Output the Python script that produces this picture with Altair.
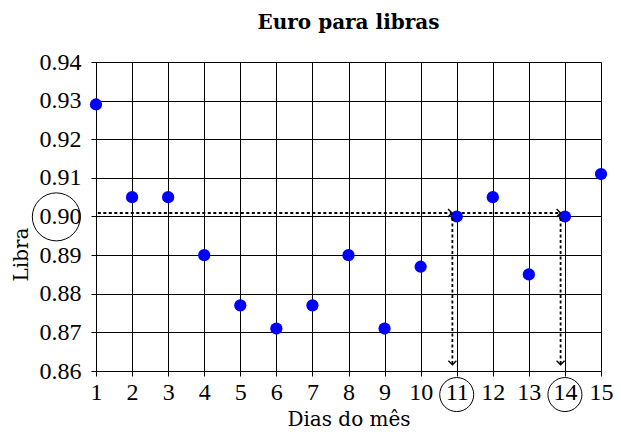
import altair as alt
import pandas as pd

days = list(range(1, 16))
rates = [0.929, 0.905, 0.905, 0.890, 0.877, 0.871, 0.877, 0.890, 0.871, 0.887,
         0.900, 0.905, 0.885, 0.900, 0.911]
y_ticks = [0.86, 0.87, 0.88, 0.89, 0.90, 0.91, 0.92, 0.93, 0.94]

# dotted arrow segments (start x, start y, end x, end y)
arr_x = [1.05, 11.14, 10.88, 13.88]
arr_y = [0.9009, 0.9009, 0.8996, 0.8996]
arr_x2 = [10.87, 13.88, 10.88, 13.88]
arr_y2 = [0.9009, 0.9009, 0.8616, 0.8616]
arr_angle = [0, 0, 90, 90]

# annotation circles (around label 0.90, day 11, day 14)
circ_x = [-0.10, 11, 14]
circ_y = [0.8999, 0.8539, 0.8539]
circ_size = [2304, 1156, 1156]

TICKFONT = "Liberation Serif"
TFONT = "DejaVu Serif"

pts = pd.DataFrame({"dia": days, "libra": rates})
arr = pd.DataFrame({"x": arr_x, "y": arr_y, "x2": arr_x2, "y2": arr_y2, "ang": arr_angle})
circ = pd.DataFrame({"x": circ_x, "y": circ_y, "s": circ_size})

xs = alt.Scale(domain=[1, 15], nice=False, zero=False)
ys = alt.Scale(domain=[0.86, 0.94], nice=False, zero=False)

ax_x = alt.Axis(values=days, format="d", title="Dias do mês",
                grid=True, gridColor="black", gridWidth=1, gridOpacity=1,
                domainColor="black", tickColor="black", tickSize=5,
                labelFont=TICKFONT, labelFontSize=24, labelColor="black",
                labelPadding=4, labelFlush=False, labelOverlap=False,
                titleFont=TFONT, titleFontSize=20, titleFontWeight="normal",
                titleColor="black", titlePadding=5)
ax_y = alt.Axis(values=y_ticks, format=".2f", title="Libra",
                grid=True, gridColor="black", gridWidth=1, gridOpacity=1,
                domainColor="black", tickColor="black", tickSize=5,
                labelFont=TICKFONT, labelFontSize=24, labelColor="black",
                labelPadding=10, labelFlush=False, labelOverlap=False,
                titleFont=TFONT, titleFontSize=20, titleFontWeight="normal",
                titleColor="black", titleX=-65, titleY=192)

points = alt.Chart(pts).mark_circle(color="#0000FF", opacity=1, size=150).encode(
    x=alt.X("dia:Q", scale=xs, axis=ax_x), y=alt.Y("libra:Q", scale=ys, axis=ax_y))

lines = alt.Chart(arr).mark_rule(color="black", strokeWidth=1.8, strokeDash=[3, 2.5]).encode(
    x=alt.X("x:Q", scale=xs, axis=ax_x), y=alt.Y("y:Q", scale=ys, axis=ax_y),
    x2="x2:Q", y2="y2:Q")

heads = alt.Chart(arr).mark_point(
    shape="M-1,-1L0,0L-1,1", filled=False, color="black", strokeWidth=1.4,
    size=64, opacity=1).encode(
    x=alt.X("x2:Q", scale=xs, axis=ax_x), y=alt.Y("y2:Q", scale=ys, axis=ax_y),
    angle=alt.Angle("ang:Q", scale=None))

circles = alt.Chart(circ).mark_point(
    shape="circle", filled=False, color="black", strokeWidth=1, opacity=1,
    clip=False).encode(
    x=alt.X("x:Q", scale=xs, axis=ax_x), y=alt.Y("y:Q", scale=ys, axis=ax_y),
    size=alt.Size("s:Q", scale=None, legend=None))

chart = alt.layer(points, lines, heads, circles).properties(
    width=505, height=309,
    title=alt.TitleParams("Euro para libras", font=TFONT, fontSize=20, fontWeight="bold",
                          color="black", offset=17, anchor="middle"),
    autosize=alt.AutoSizeParams(type="none"),
    padding={"left": 88, "top": 54, "right": 12, "bottom": 58},
).configure_view(strokeOpacity=0).configure(background="white")

chart.save("out.html", embed_options={"renderer": "svg", "actions": False})
